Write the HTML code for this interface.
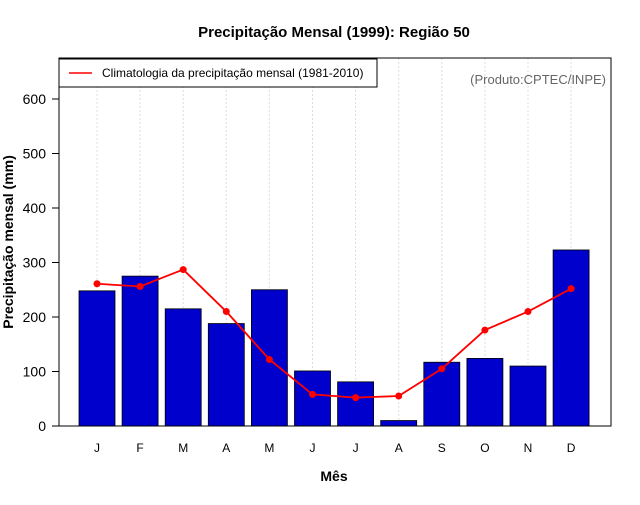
<!DOCTYPE html>
<html><head><meta charset="utf-8"><style>
body{margin:0;background:#fff}
svg text{font-family:"Liberation Sans",sans-serif}
</style></head><body>
<svg id="chart" width="640" height="500" xmlns="http://www.w3.org/2000/svg">
<text x="334" y="37" text-anchor="middle" font-size="15" font-weight="bold">Precipitação Mensal (1999): Região 50</text>
<g id="grid"></g><g id="bars"></g><g id="line"></g><g id="axes"></g>
<rect x="59" y="58" width="552" height="368" fill="none" stroke="#000"/>
<g>
<rect x="59" y="59" width="318" height="28" fill="#fff" stroke="#000"/>
<line x1="69" y1="73" x2="92" y2="73" stroke="red" stroke-width="1.5"/>
<text x="102" y="77" font-size="12">Climatologia da precipitação mensal (1981-2010)</text>
</g>
<text x="606" y="84" text-anchor="end" font-size="13" fill="#666">(Produto:CPTEC/INPE)</text>
<text transform="translate(13,242) rotate(-90)" text-anchor="middle" font-size="14" font-weight="bold">Precipitação mensal (mm)</text>
<text x="334" y="481" text-anchor="middle" font-size="14" font-weight="bold">Mês</text>
</svg>
<script>
const months=["J","F","M","A","M","J","J","A","S","O","N","D"];
const observed=[248,275,215,188,250,101,81,10,117,124,110,323];
const climatology=[261,256,287,210,122,58,52,55,105,176,210,252];
const yTicks=[0,100,200,300,400,500,600];
const NS="http://www.w3.org/2000/svg";
const X=i=>97+i*43.1, Y=v=>426-v*0.545;
function mk(t,a,p){const e=document.createElementNS(NS,t);for(const k in a)e.setAttribute(k,a[k]);p.appendChild(e);return e;}
const g=document.getElementById('grid'),b=document.getElementById('bars'),l=document.getElementById('line'),ax=document.getElementById('axes');
months.forEach((m,i)=>{
 const gl=mk('line',{x1:X(i),x2:X(i),y1:58,y2:426,stroke:'#ddd','stroke-dasharray':'2,2'},g);
 
 
 const r=mk('rect',{x:X(i)-18,y:Y(observed[i]),width:36,height:observed[i]*0.545,fill:'#0000cd',stroke:'#000','stroke-width':0.8},b);
 
 
 const t=mk('text',{x:X(i),y:452,'text-anchor':'middle','font-size':12},ax);t.textContent=m;
 
 
});
const p=mk('polyline',{points:climatology.map((v,i)=>X(i)+','+Y(v)).join(' '),fill:'none',stroke:'red','stroke-width':1.8},l);


climatology.forEach((v,i)=>{const c=mk('circle',{cx:X(i),cy:Y(v),r:3.5,fill:'red'},l);
 
 });
yTicks.forEach(v=>{
 mk('line',{x1:52,x2:59,y1:Y(v),y2:Y(v),stroke:'#000'},ax);
 const t=mk('text',{x:46,y:Y(v)+5,'text-anchor':'end','font-size':14},ax);t.textContent=v;
 
 
});
</script>
</body></html>
